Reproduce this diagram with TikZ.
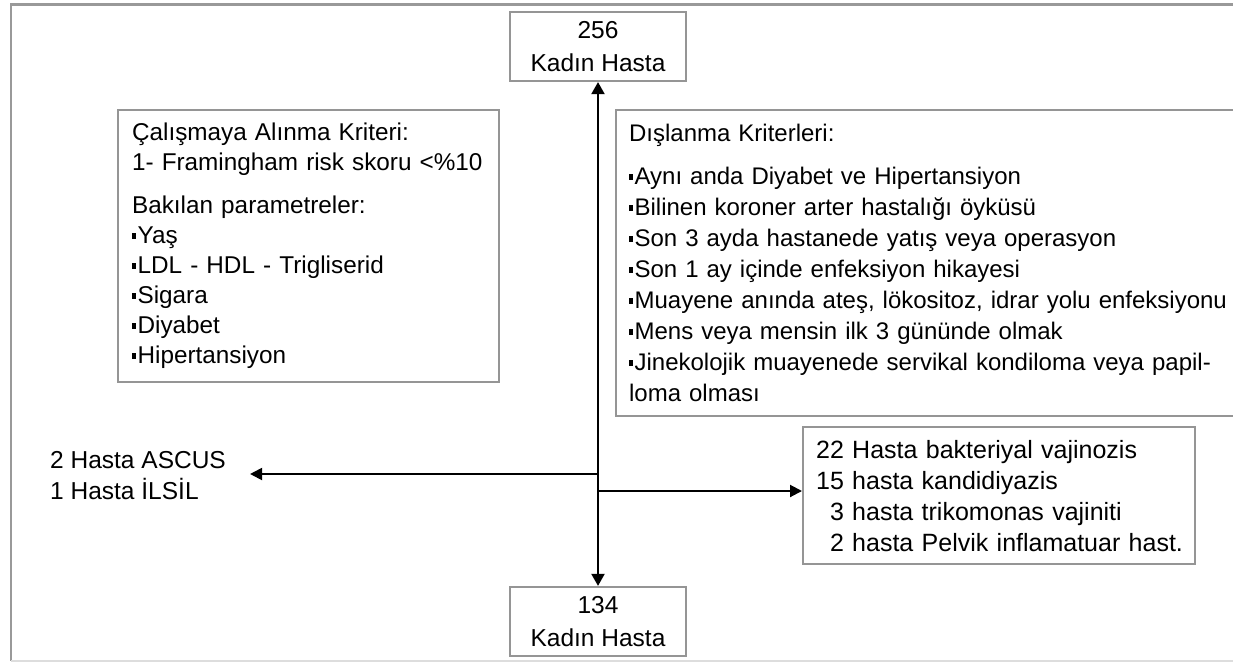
\documentclass[tikz,border=0pt]{standalone}
\usepackage{fontspec}
\setmainfont{Liberation Sans}
\usetikzlibrary{arrows.meta}
\definecolor{boxgray}{HTML}{959595}
\definecolor{framegray}{HTML}{999999}
\definecolor{framelight}{HTML}{DDDDDD}
\newcommand{\bul}{\rule[5pt]{4pt}{5.5pt}\hspace{1.5pt}}
\begin{document}
\begin{tikzpicture}[x=1pt,y=-1pt,
  box/.style={draw=boxgray, line width=2.2pt, inner ysep=0pt},
  arr/.style={line width=2pt, -{Triangle[length=12pt,width=12pt]}},
  dblarr/.style={line width=2pt, {Triangle[length=12pt,width=13pt]}-{Triangle[length=12pt,width=13pt]}},
]
\useasboundingbox (0,0) rectangle (1233,663);
\fill[white] (0,0) rectangle (1233,663);
% outer frame
\draw[framegray, line width=2.4pt] (1240,4.5) -- (11,4.5) -- (11,661);
\draw[framelight, line width=1.5pt] (11,661) -- (1240,661);

% top and bottom boxes
\node[box, minimum width=176pt, minimum height=69pt, align=center,
      font=\fontsize{24.5pt}{33pt}\selectfont] (top) at (598,46.5) {256\\Kadın Hasta};
\node[box, minimum width=176pt, minimum height=69pt, align=center,
      font=\fontsize{24.5pt}{33pt}\selectfont] (bot) at (598,621.5) {134\\Kadın Hasta};

% inclusion box
\node[box, anchor=north west, inner xsep=14pt, text width=353pt, minimum height=272pt,
      align=left, font=\fontsize{24.3pt}{30pt}\selectfont] (inc) at (117,109)
 {Çalışmaya Alınma Kriteri:\\
  \mbox{1- Framingham risk skoru <\%10}\\[13pt]
  Bakılan parametreler:\\
  \bul Yaş\\
  \bul LDL - HDL - Trigliserid\\
  \bul Sigara\\
  \bul Diyabet\\
  \bul Hipertansiyon};

% exclusion box (runs past the right edge)
\node[box, anchor=north west, inner xsep=13pt, text width=600pt, minimum height=306pt,
      align=left, font=\fontsize{24pt}{31pt}\selectfont] (exc) at (615,109)
 {Dışlanma Kriterleri:\\[12pt]
  \bul Aynı anda Diyabet ve Hipertansiyon\\
  \bul Bilinen koroner arter hastalığı öyküsü\\
  \bul Son 3 ayda hastanede yatış veya operasyon\\
  \bul Son 1 ay içinde enfeksiyon hikayesi\\
  \mbox{\bul Muayene anında ateş, lökositoz, idrar yolu enfeksiyonu}\\
  \bul Mens veya mensin ilk 3 gününde olmak\\
  \makebox[594pt][s]{\bul Jinekolojik muayenede servikal kondiloma veya papil-}\\
  loma olması};

% infections box
\node[box, anchor=north west, inner xsep=13pt, text width=366pt, minimum height=137pt,
      align=left, font=\fontsize{25pt}{31pt}\selectfont] (inf) at (802,426)
 {\mbox{22 Hasta bakteriyal vajinozis}\\
  \mbox{15 hasta kandidiyazis}\\
  \mbox{\phantom{0}3 hasta trikomonas vajiniti}\\
  \mbox{\phantom{0}2 hasta Pelvik inflamatuar hast.}};

% cytology text
\node[anchor=west, inner xsep=24pt, inner ysep=0pt, align=left,
      font=\fontsize{24.5pt}{31pt}\selectfont] (cyt) at (26,476)
 {2 Hasta ASCUS\\1 Hasta İLSİL};

% connectors
\draw[dblarr] (top.south) -- (bot.north);
\coordinate (jl) at (598,474);
\coordinate (jr) at (598,491);
\draw[arr] (jl) -- (jl -| cyt.east);
\draw[arr] (jr) -- (jr -| inf.west);
\end{tikzpicture}
\end{document}
